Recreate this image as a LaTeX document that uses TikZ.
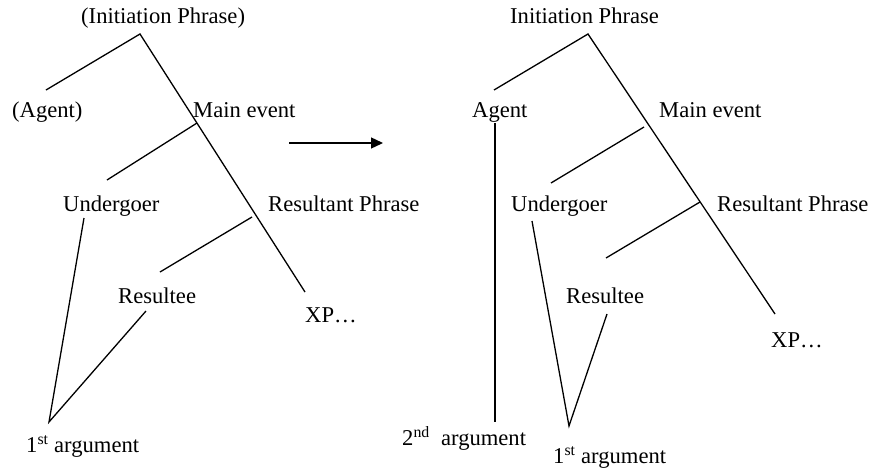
\documentclass[tikz,border=0pt]{standalone}
\usepackage{fontspec}
\setmainfont{Liberation Serif}
\usetikzlibrary{arrows.meta}
\begin{document}
\begin{tikzpicture}[x=1pt,y=-1pt,
  lbl/.style={anchor=base west, inner sep=0pt, font=\fontsize{22.6}{27}\selectfont},
  edge/.style={line width=1.3pt}]
\useasboundingbox (0,0) rectangle (873,474);
% ---------- left tree ----------
\node[lbl] (LI)  at (81,23)   {(Initiation Phrase)};
\node[lbl] (LA)  at (12,117)  {(Agent)};
\node[lbl] (LM)  at (193,117) {Main event};
\node[lbl] (LU)  at (63,211)  {Undergoer};
\node[lbl] (LR)  at (268,211) {Resultant Phrase};
\node[lbl] (LRe) at (118,303) {Resultee};
\node[lbl] (LX)  at (305,322) {XP…};
\node[lbl] (L1)  at (26,452)  {1\textsuperscript{st} argument};
\coordinate (ltop) at (140,34);
\coordinate (lag)  at (46,90);
\coordinate (lme)  at (197,123);
\coordinate (lug)  at (107,180);
\coordinate (lxp)  at (305,292);
\coordinate (lrp)  at (252,217);
\coordinate (lre)  at (160,272);
\coordinate (lug2) at (84,218);
\coordinate (lre2) at (146,311);
\coordinate (larg) at (49,422);
\draw[edge] (lag) -- (ltop) -- (lxp);
\draw[edge] (lme) -- (lug);
\draw[edge] (lrp) -- (lre);
\draw[edge] (lug2) -- (larg) -- (lre2);
% ---------- arrow ----------
\coordinate (a1) at (289,143);
\coordinate (a2) at (383,143);
\draw[edge,-{Triangle[length=12pt,width=11pt]}] (a1) -- (a2);
% ---------- right tree ----------
\node[lbl] (RI)  at (510,23)  {Initiation Phrase};
\node[lbl] (RA)  at (472,117) {Agent};
\node[lbl] (RM)  at (659,117) {Main event};
\node[lbl] (RU)  at (511,211) {Undergoer};
\node[lbl] (RR)  at (717,211) {Resultant Phrase};
\node[lbl] (RRe) at (566,303) {Resultee};
\node[lbl] (RX)  at (771,347) {XP…};
\node[lbl] (R2)  at (402,445) {2\textsuperscript{nd}\ \ argument};
\node[lbl] (R1)  at (553,463) {1\textsuperscript{st} argument};
\coordinate (rtop) at (588,34);
\coordinate (rag)  at (494,90);
\coordinate (rxp)  at (775,314);
\coordinate (rme)  at (644,127);
\coordinate (rug)  at (551,183);
\coordinate (rrp)  at (700,202);
\coordinate (rre)  at (606,258);
\coordinate (rug2) at (532,221);
\coordinate (rre2) at (607,314);
\coordinate (rarg) at (569,426);
\coordinate (rag2) at (495,123);
\coordinate (rag3) at (495,422);
\draw[edge] (rag) -- (rtop) -- (rxp);
\draw[edge] (rme) -- (rug);
\draw[edge] (rrp) -- (rre);
\draw[edge] (rug2) -- (rarg) -- (rre2);
\draw[edge] (rag2) -- (rag3);
\end{tikzpicture}
\end{document}
